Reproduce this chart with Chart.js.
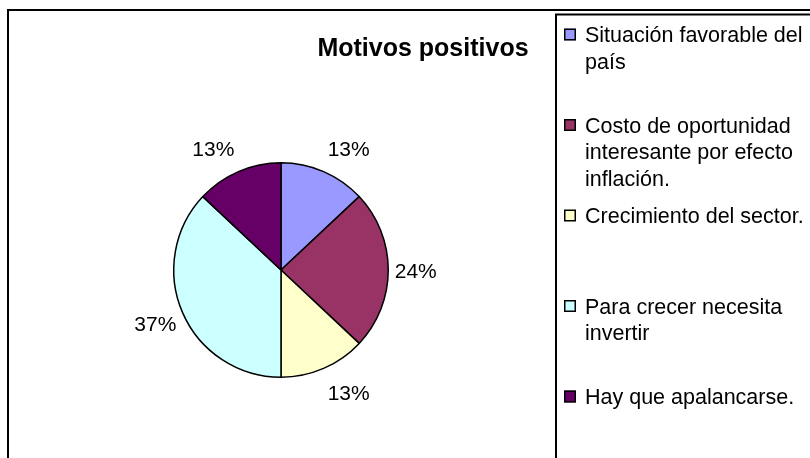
<!DOCTYPE html>
<html><head><meta charset="utf-8">
<script src="https://cdn.jsdelivr.net/npm/chart.js"></script>
<style>html,body{margin:0;padding:0;background:#fff;} #wrap{width:810px;height:458px;position:relative;overflow:hidden;}</style>
</head><body><div id="wrap"><canvas id="c" width="810" height="458"></canvas></div>
<script>
const titleText = 'Motivos positivos';
const categories = ['Situación favorable del país', 'Costo de oportunidad interesante por efecto inflación.', 'Crecimiento del sector.', 'Para crecer necesita invertir', 'Hay que apalancarse.'];
const values = [13, 24, 13, 37, 13];
const colors = ['#9999FF', '#993366', '#FFFFCC', '#CCFFFF', '#660066'];

const FONT = '"Liberation Sans", Arial, sans-serif';

function wrap(ctx, text, maxW) {
  const words = text.split(' ');
  const lines = [];
  let cur = '';
  words.forEach(w => {
    const t = cur ? cur + ' ' + w : w;
    if (ctx.measureText(t).width > maxW && cur) { lines.push(cur); cur = w; }
    else cur = t;
  });
  if (cur) lines.push(cur);
  return lines;
}

const decor = {
  id: 'decor',
  beforeDraw(chart) {
    const ctx = chart.ctx;
    ctx.save(); ctx.fillStyle = '#fff'; ctx.fillRect(0, 0, chart.width, chart.height); ctx.restore();
  },
  afterDraw(chart) {
    const ctx = chart.ctx;
    ctx.save();
    ctx.strokeStyle = '#000'; ctx.lineWidth = 2;
    ctx.strokeRect(8, 10, 820, 470);
    ctx.strokeRect(556, 14.5, 300, 500);
    // title
    ctx.fillStyle = '#000';
    ctx.font = 'bold 25px ' + FONT;
    ctx.textAlign = 'center'; ctx.textBaseline = 'alphabetic';
    ctx.fillText(titleText, 423, 55.5);
    // data labels
    const meta = chart.getDatasetMeta(0);
    const total = values.reduce((a, b) => a + b, 0);
    ctx.font = '21px ' + FONT;
    ctx.textBaseline = 'middle';
    meta.data.forEach((arc, i) => {
      const p = arc.getProps(['x', 'y', 'startAngle', 'endAngle', 'outerRadius'], true);
      const mid = (p.startAngle + p.endAngle) / 2;
      const c = Math.cos(mid), s = Math.sin(mid);
      const R = p.outerRadius + 4;
      const txt = Math.round(values[i] / total * 100) + '%';
      const w = ctx.measureText(txt).width;
      const x = p.x + c * R + (Math.abs(c) > 0.1 ? Math.sign(c) * (w / 2 + 2.5) : 0);
      const y = p.y + s * R + s * 22 + 2;
      ctx.fillText(txt, x, y);
    });
    // legend
    ctx.font = '21.5px ' + FONT;
    ctx.textAlign = 'left'; ctx.textBaseline = 'alphabetic';
    categories.forEach((cat, i) => {
      const base = 42 + i * 90.5;
      const lines = wrap(ctx, cat, 226);
      ctx.fillStyle = colors[i]; ctx.fillRect(564, base - 13.5, 12, 12);
      ctx.strokeStyle = '#000'; ctx.lineWidth = 1.5; ctx.strokeRect(564.75, base - 12.75, 10.5, 10.5);
      ctx.fillStyle = '#000';
      lines.forEach((ln, j) => ctx.fillText(ln, 585, base + j * 26.5));
    });
    ctx.restore();
  }
};

new Chart(document.getElementById('c'), {
  type: 'pie',
  data: { labels: categories, datasets: [{ data: values, backgroundColor: colors, borderColor: '#000', borderWidth: 1.5 }] },
  options: {
    responsive: false, animation: false, events: [],
    layout: { padding: { left: 173, right: 421, top: 162, bottom: 80 } },
    plugins: { legend: { display: false }, title: { display: false }, tooltip: { enabled: false } }
  },
  plugins: [decor]
});
</script></body></html>
